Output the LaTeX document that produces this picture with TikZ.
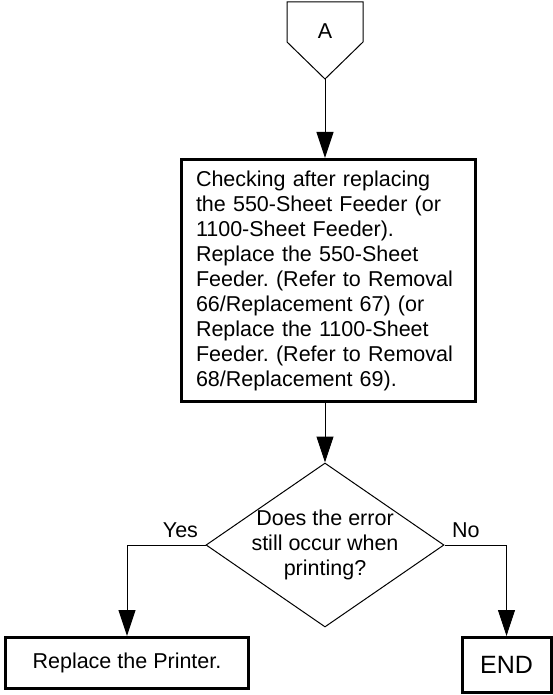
\documentclass[tikz,border=0pt]{standalone}
\usepackage{fontspec}
\setmainfont{Liberation Sans}
\frenchspacing
\usetikzlibrary{shapes.geometric, arrows.meta, positioning}

\begin{document}
\begin{tikzpicture}[
    x=1pt, y=1pt,
    every node/.style={font=\fontsize{21.5}{25}\selectfont},
    procbox/.style={rectangle, draw=black, line width=3pt, inner sep=0pt, align=center},
    decision/.style={diamond, draw=black, line width=1pt, aspect=1.45, inner sep=-10pt, minimum width=238pt, minimum height=164pt, align=center},
    arrow/.style={-{Triangle[length=26pt, width=17pt]}, line width=1pt, color=black},
    line/.style={line width=1pt, color=black}
]
\useasboundingbox (0,0) rectangle (553,-695);

% Off-page connector
\draw[line] (287,-2) -- (363,-2) -- (363,-42) -- (325,-79) -- (287,-42) -- cycle;
\node (conA) at (325,-31) {A};
\coordinate (conAtip) at (325,-79);

% Check box
\node[procbox, minimum width=294pt, minimum height=242pt, text width=265pt, align=left] (check) at (328.5,-280.5)
    {Checking after replacing\\the 550-Sheet Feeder (or\\1100-Sheet Feeder).\\Replace the 550-Sheet\\Feeder. (Refer to Removal\\66/Replacement 67) (or\\Replace the 1100-Sheet\\Feeder. (Refer to Removal\\68/Replacement 69).};

% Decision
\node[decision] (decide) at (325,-545) {Does the error\\still occur when\\printing?};
\node[above left=4pt and 4pt of decide.west] (yes) {Yes};
\node[above right=4pt and 4pt of decide.east] (no) {No};

% Results
\node[procbox, minimum width=243pt, minimum height=51pt] (replace) at (127,-663) {Replace the Printer.};
\node[procbox, minimum width=89pt, minimum height=55pt, font=\fontsize{25}{30}\selectfont] (stop) at (506.5,-665) {END};

\draw[arrow] (conAtip) -- (conAtip |- check.north);
\draw[arrow] (decide.north |- check.south) -- (decide.north);
\draw[arrow] (decide.west) -| (replace.north);
\draw[arrow] (decide.east) -| (stop.north);
\end{tikzpicture}
\end{document}
